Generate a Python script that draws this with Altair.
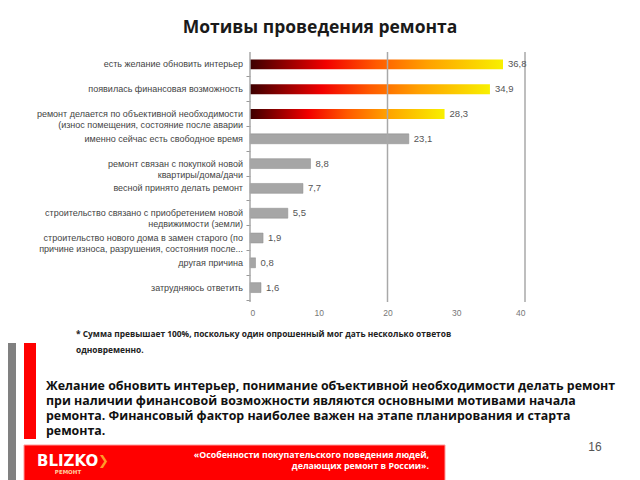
import altair as alt
import pandas as pd

# ---- data ----
categories = [
    "есть желание обновить интерьер",
    "появилась финансовая возможность",
    "ремонт делается по объективной необходимости\n(износ помещения, состояние после аварии",
    "именно сейчас есть свободное время",
    "ремонт связан с покупкой новой\nквартиры/дома/дачи",
    "весной принято делать ремонт",
    "строительство связано с приобретением новой\nнедвижимости (земли)",
    "строительство нового дома в замен старого (по\nпричине износа, разрушения, состояния после...",
    "другая причина",
    "затрудняюсь ответить",
]
values = [36.8, 34.9, 28.3, 23.1, 8.8, 7.7, 5.5, 1.9, 0.8, 1.6]
value_labels = ["36,8", "34,9", "28,3", "23,1", "8,8", "7,7", "5,5", "1,9", "0,8", "1,6"]
highlight = [True, True, True, False, False, False, False, False, False, False]
x_ticks = [0, 10, 20, 30, 40]
grid_vals = [0, 20, 40]

title_text = "Мотивы проведения ремонта"
footnote_lines = [
    "* Сумма превышает 100%, поскольку один опрошенный мог дать несколько ответов",
    "одновременно.",
]
summary_lines = [
    "Желание обновить интерьер, понимание объективной необходимости делать ремонт",
    "при наличии финансовой возможности являются основными мотивами начала",
    "ремонта. Финансовый фактор наиболее важен на этапе планирования и старта",
    "ремонта.",
]
footer_lines = [
    "«Особенности покупательского поведения людей,",
    "делающих ремонт в России».",
]
page_number = "16"

df = pd.DataFrame({
    "cat": categories,
    "val": values,
    "lab": value_labels,
    "hl": highlight,
})
grid_df = pd.DataFrame({"g": grid_vals})

W, H = 275, 248

xscale = alt.Scale(domain=[0, 40], nice=False, zero=True)
yscale = alt.Scale(domain=categories, paddingInner=0, paddingOuter=0)

base = alt.Chart(df)

grad = alt.LinearGradient(
    gradient="linear",
    x1=0, x2=1, y1=0, y2=0,
    stops=[
        alt.GradientStop(offset=0, color="#3c0000"),
        alt.GradientStop(offset=0.3, color="#f20000"),
        alt.GradientStop(offset=0.5, color="#ff5a00"),
        alt.GradientStop(offset=0.7, color="#ffa000"),
        alt.GradientStop(offset=1, color="#f8f000"),
    ],
)

bars_hl = base.transform_filter("datum.hl").mark_bar(
    color=grad, height=alt.RelativeBandSize(0.4), cornerRadius=0
).encode(
    x=alt.X("val:Q", scale=xscale,
            axis=alt.Axis(values=x_ticks, grid=False, domain=False, ticks=False,
                          labelFont="Liberation Sans", labelFontSize=8.5,
                          labelColor="#777777", labelPadding=8, title=None)),
    y=alt.Y("cat:N", scale=yscale, sort=categories,
            axis=alt.Axis(labels=False, domain=False, ticks=True, tickSize=4,
                          tickColor="#999999", bandPosition=1, grid=False, title=None)),
)

bars_gray = base.transform_filter("!datum.hl").mark_bar(
    color="#a6a6a6", height=alt.RelativeBandSize(0.4),
    stroke="#8a8a8a", strokeWidth=0.5
).encode(
    x=alt.X("val:Q", scale=xscale),
    y=alt.Y("cat:N", scale=yscale, sort=categories),
)

grid = alt.Chart(grid_df).mark_rule(color="#a8a8a8", strokeWidth=1.5).encode(
    x=alt.X("g:Q", scale=xscale),
    y=alt.value(0),
    y2=alt.value(H + 2),
)

val_text = base.mark_text(
    align="left", baseline="middle", dx=5,
    font="Liberation Sans", fontSize=9.5, color="#555555",
).encode(
    x=alt.X("val:Q", scale=xscale),
    y=alt.Y("cat:N", scale=yscale, sort=categories),
    text="lab:N",
)

cat_text = base.mark_text(
    align="right", baseline="middle", lineBreak="\n", lineHeight=11,
    font="Liberation Sans", fontSize=9, color="#444444",
).encode(
    x=alt.value(-7),
    y=alt.Y("cat:N", scale=yscale, sort=categories),
    text="cat:N",
)

one = alt.Data(values=[{}])


def rect(x, x2, y, y2, color, **kw):
    return alt.Chart(one).mark_rect(color=color, **kw).encode(
        x=alt.value(x), x2=alt.value(x2), y=alt.value(y), y2=alt.value(y2))


def txt(s, x, y, **kw):
    return alt.Chart(one).mark_text(**kw).encode(
        x=alt.value(x), y=alt.value(y), text=alt.value(s))


# page coordinates relative to plot origin (page x 250, y 52)
ox, oy = 250, 52

deco = [
    rect(0 - ox, 16 - ox, 343 - oy, 482 - oy, "#808080"),
    rect(24 - ox, 36 - ox, 343 - oy, 439 - oy, "#ff0000"),
    rect(24 - ox, 445 - ox, 445 - oy, 482 - oy, "#ff0000", stroke="#ff9a9a", strokeWidth=1),
    txt(title_text, 320 - ox, 28 - oy, font="Open Sans", fontSize=17.5, fontWeight="bold",
        color="#1a1a1a", align="center", baseline="middle"),
    txt(footnote_lines[0], 76 - ox, 334 - oy, font="Open Sans", fontSize=8.4, fontWeight="bold",
        color="#222222", align="left", baseline="middle"),
    txt(footnote_lines[1], 76 - ox, 350 - oy, font="Open Sans", fontSize=8.4, fontWeight="bold",
        color="#222222", align="left", baseline="middle"),
    txt("BLIZKO", 37 - ox, 461 - oy, font="DejaVu Sans", fontSize=15, fontWeight="bold",
        color="#ffffff", align="left", baseline="middle"),
    txt("❯", 98 - ox, 461 - oy, font="DejaVu Sans", fontSize=13, fontWeight="bold",
        color="#ff9a2a", align="left", baseline="middle"),
    txt("РЕМОНТ", 68 - ox, 472 - oy, font="DejaVu Sans", fontSize=5.5, fontWeight="bold",
        color="#ffd0a0", align="center", baseline="middle"),
    txt(footer_lines[0], 429 - ox, 455 - oy, font="Open Sans", fontSize=8.8, fontWeight="bold",
        color="#ffffff", align="right", baseline="middle"),
    txt(footer_lines[1], 429 - ox, 466 - oy, font="Open Sans", fontSize=8.8, fontWeight="bold",
        color="#ffffff", align="right", baseline="middle"),
    txt(page_number, 595 - ox, 447 - oy, font="Liberation Sans", fontSize=12,
        color="#555555", align="center", baseline="middle"),
]
for i, line in enumerate(summary_lines):
    deco.append(txt(line, 46 - ox, 386 + 15 * i - oy, font="Open Sans", fontSize=12.4,
                    fontWeight="bold", color="#111111", align="left", baseline="middle"))

chart = alt.layer(bars_hl, bars_gray, grid, val_text, cat_text, *deco).properties(
    width=W, height=H,
    padding={"left": 242, "top": 44, "right": 107, "bottom": 180},
    autosize=alt.AutoSizeParams(type="none"),
    background="white",
).configure_view(stroke=None)

chart.save("out.html", embed_options={"renderer": "svg", "actions": False})
